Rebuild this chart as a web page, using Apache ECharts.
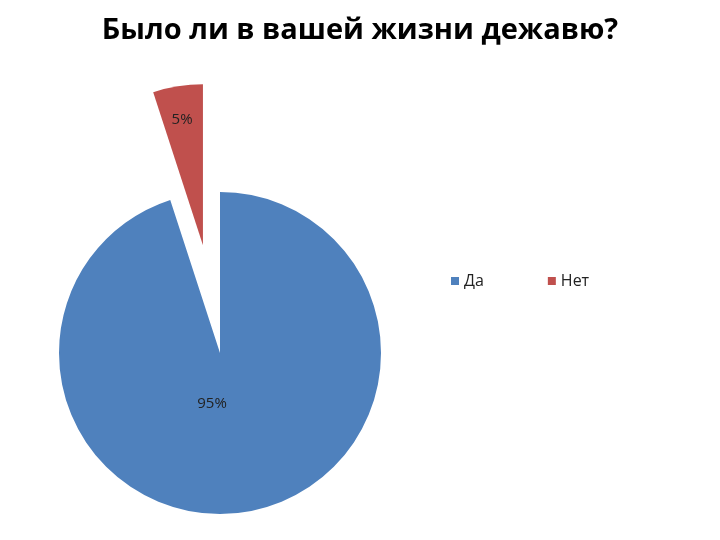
<!DOCTYPE html>
<html><head><meta charset="utf-8">
<script src="https://cdn.jsdelivr.net/npm/echarts@6/dist/echarts.min.js"></script>
<style>html,body{margin:0;padding:0;background:#fff}#c{width:720px;height:540px}</style>
</head><body><div id="c"></div>
<script>
const titleText = 'Было ли в вашей жизни дежавю?';
const categories = ['Да', 'Нет'];
const values = [95, 5];
const colors = ['#4F81BD', '#C0504D'];
const labelOffsets = [[-21, -32], [4, -45]];

const chart = echarts.init(document.getElementById('c'), null, {renderer: 'canvas'});
chart.setOption({
  animation: false,
  title: {
    text: titleText, left: 'center', top: 11,
    textStyle: {fontFamily: 'Open Sans', fontWeight: 'bold', fontSize: 29, color: '#000'}
  },
  legend: {
    data: categories, left: 446, top: 268, itemGap: 64,
    itemWidth: 8, itemHeight: 8, icon: 'rect',
    textStyle: {fontFamily: 'Open Sans', fontSize: 16, color: '#222'}
  },
  series: [{
    type: 'pie', center: [220, 353], radius: 161, startAngle: 90, clockwise: true,
    selectedMode: 'multiple', selectedOffset: 109,
    emphasis: {disabled: true}, silent: true,
    labelLine: {show: false},
    data: categories.map((c, i) => {
      const lbl = {show: true, position: 'inside', offset: labelOffsets[i],
        formatter: p => Math.round(p.percent) + '%',
        fontFamily: 'Open Sans', fontSize: 15, color: '#222'};
      return {
        name: c, value: values[i], selected: i === 1,
        itemStyle: {color: colors[i]},
        label: lbl,
        select: {itemStyle: {color: colors[i]}, label: lbl}
      };
    })
  }]
});
</script></body></html>
